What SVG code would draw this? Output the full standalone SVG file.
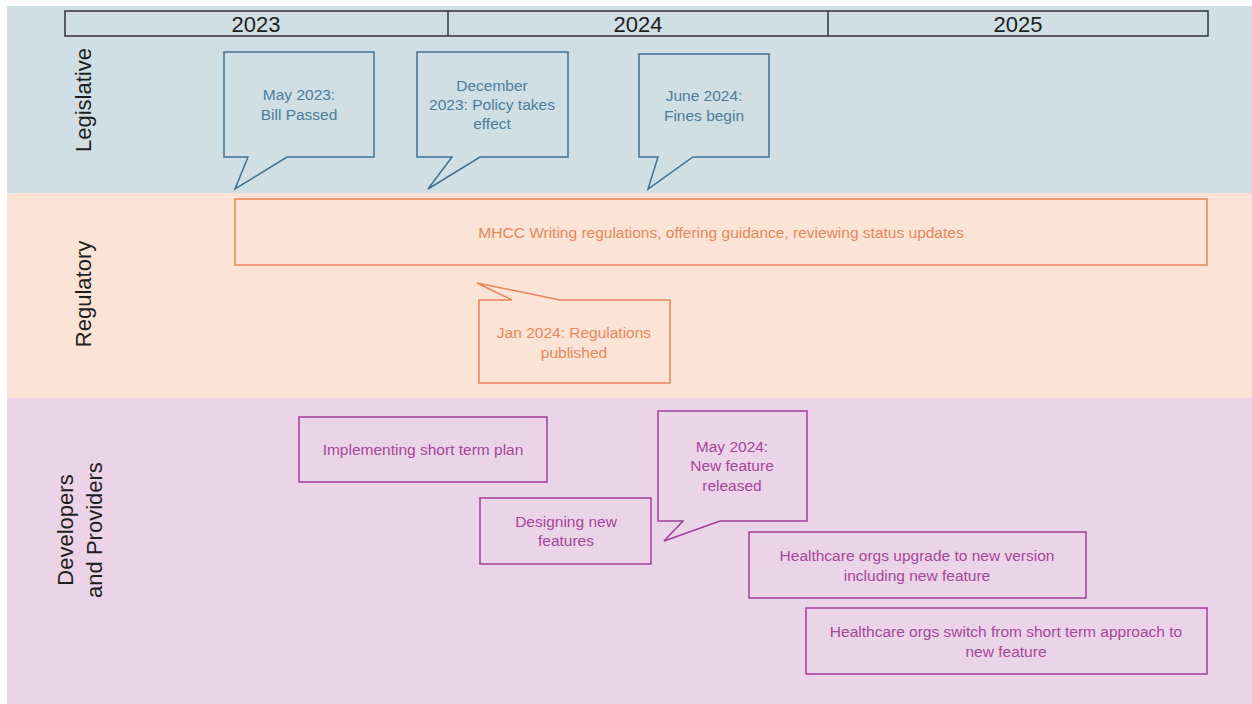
<svg xmlns="http://www.w3.org/2000/svg" width="1252" height="704" viewBox="0 0 1252 704">
<style>
.lane{font-family:"Liberation Sans",Arial,sans-serif;font-size:22px;fill:#1e1e1e;text-anchor:middle}
.year{font-family:"Liberation Sans",Arial,sans-serif;font-size:22px;fill:#1e1e1e;text-anchor:middle}
.t{font-family:"Liberation Sans",Arial,sans-serif;font-size:15.5px;text-anchor:middle}
.b{fill:none;stroke:#41718e;stroke-width:1.5}
.bt{fill:#4d7c9a}
.o{fill:none;stroke:#e8845a;stroke-width:1.5}
.ot{fill:#e5895a}
.p{fill:none;stroke:#a03f96;stroke-width:1.5}
.pt{fill:#a5479a}
</style>
<rect width="1252" height="704" fill="#ffffff"/>
<g id="lanes">
<rect x="7" y="6" width="1245" height="187" fill="#cfdfe4"/>
<rect x="7" y="193" width="1245" height="205" fill="#fbe3d6"/>
<rect x="7" y="398" width="1245" height="306" fill="#ebd3e8"/>
<text class="lane" transform="translate(91,100) rotate(-90)">Legislative</text>
<text class="lane" transform="translate(91,294) rotate(-90)">Regulatory</text>
<text class="lane" transform="translate(73,530) rotate(-90)"><tspan x="0" y="0">Developers</tspan><tspan x="0" y="29">and Providers</tspan></text>
</g>
<g id="years">
<rect x="65" y="11" width="1143" height="25" fill="none" stroke="#333" stroke-width="1.5"/>
<line x1="448" y1="11" x2="448" y2="36" stroke="#333" stroke-width="1.5"/>
<line x1="828" y1="11" x2="828" y2="36" stroke="#333" stroke-width="1.5"/>
<text class="year" x="256" y="31.5">2023</text>
<text class="year" x="638" y="31.5">2024</text>
<text class="year" x="1018" y="31.5">2025</text>
</g>
<g id="connectors"></g>
<g id="n-may2023">
<path class="b" d="M224,52 H374 V157 H287 L235,189 L248,157 H224 Z"/>
<text class="t bt" x="299" y="100">May 2023:</text>
<text class="t bt" x="299" y="120">Bill Passed</text>
</g>
<g id="n-dec2023">
<path class="b" d="M417,52 H568 V157 H480 L428,189 L452,157 H417 Z"/>
<text class="t bt" x="492" y="91">December</text>
<text class="t bt" x="492" y="110">2023: Policy takes</text>
<text class="t bt" x="492" y="129">effect</text>
</g>
<g id="n-jun2024">
<path class="b" d="M639,54 H769 V157 H693 L648,189 L658,157 H639 Z"/>
<text class="t bt" x="704" y="101">June 2024:</text>
<text class="t bt" x="704" y="121">Fines begin</text>
</g>
<g id="n-mhcc">
<rect class="o" x="235" y="199" width="972" height="66"/>
<text class="t ot" x="721" y="238">MHCC Writing regulations, offering guidance, reviewing status updates</text>
</g>
<g id="n-jan2024">
<path class="o" d="M479,300 H512 L477,283 L560,300 H670 V383 H479 Z"/>
<text class="t ot" x="574" y="338">Jan 2024: Regulations</text>
<text class="t ot" x="574" y="358">published</text>
</g>
<g id="n-implementing">
<rect class="p" x="299" y="417" width="248" height="65"/>
<text class="t pt" x="423" y="455">Implementing short term plan</text>
</g>
<g id="n-designing">
<rect class="p" x="480" y="498" width="171" height="66"/>
<text class="t pt" x="566" y="527">Designing new</text>
<text class="t pt" x="566" y="546">features</text>
</g>
<g id="n-may2024">
<path class="p" d="M658,411 H807 V521 H720 L664,541 L683,521 H658 Z"/>
<text class="t pt" x="732" y="452">May 2024:</text>
<text class="t pt" x="732" y="471">New feature</text>
<text class="t pt" x="732" y="491">released</text>
</g>
<g id="n-upgrade">
<rect class="p" x="749" y="532" width="337" height="66"/>
<text class="t pt" x="917" y="561">Healthcare orgs upgrade to new version</text>
<text class="t pt" x="917" y="581">including new feature</text>
</g>
<g id="n-switch">
<rect class="p" x="806" y="608" width="401" height="66"/>
<text class="t pt" x="1006" y="637">Healthcare orgs switch from short term approach to</text>
<text class="t pt" x="1006" y="657">new feature</text>
</g>
</svg>
